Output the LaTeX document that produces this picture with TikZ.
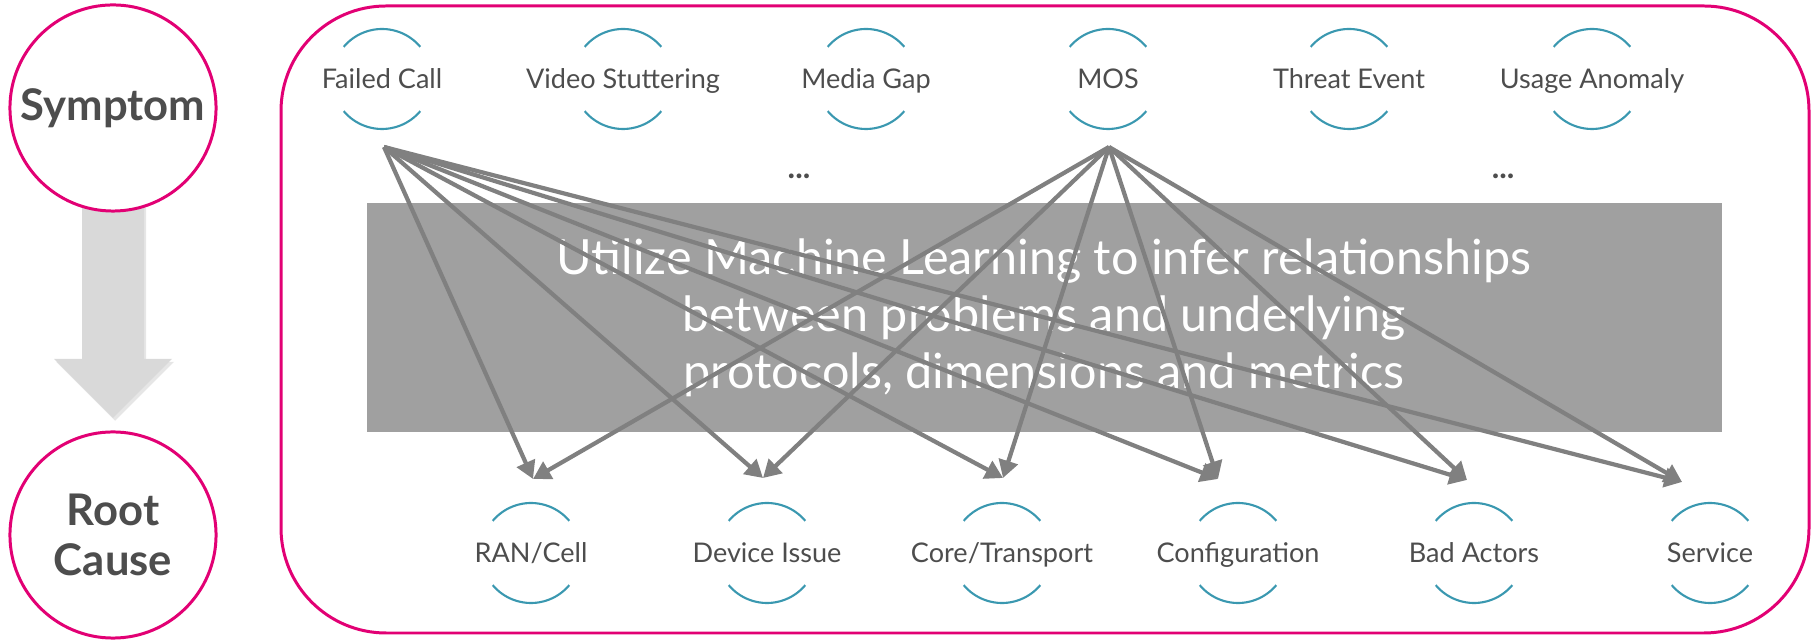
\documentclass[tikz,border=0pt]{standalone}
\usepackage{fontspec}
\setmainfont{Lato}
\usetikzlibrary{arrows.meta,shadows}

\definecolor{rim}{HTML}{E20074}
\definecolor{arcteal}{HTML}{3A98B0}
\definecolor{inkgray}{HTML}{4D4D4D}
\definecolor{linkgray}{HTML}{808080}
\definecolor{bandgray}{HTML}{A0A0A0}
\definecolor{downgray}{HTML}{D9D9D9}

\begin{document}
\begin{tikzpicture}[x=0.01cm,y=0.01cm,
  stage/.style={circle,draw=rim,line width=0.85pt,fill=white,minimum size=2.06cm,
    inner sep=0pt,align=center,text=inkgray,font=\fontsize{12.4}{14.2}\selectfont\bfseries},
  item/.style={inner sep=0pt,text height=5.5pt,text depth=0pt,text=inkgray,
    font=\fontsize{7.7}{9}\selectfont},
  arcline/.style={draw=arcteal,line width=0.6pt},
  link/.style={draw=linkgray,line width=1.2pt,-{Triangle[length=5pt,width=5.5pt]}}]
\useasboundingbox (0,0) rectangle (1816,640);

% frame round the graph
\draw[rim,line width=0.85pt,rounded corners=1.05cm] (281,7) rectangle (1809,634);

% big down arrow between the two stages
\fill[downgray,drop shadow={shadow xshift=0.6pt,shadow yshift=-0.8pt,opacity=0.2}]
  (82,435) -- (144,435) -- (144,281) -- (172,281) -- (113,222) -- (54,281) -- (82,281) -- cycle;
\node[stage] (sym) at (113,532) {Symptom};
\node[stage] (rc) at (113,105) {Root\\Cause};

% symptoms
\node[item] (fc) at (382,561) {Failed Call};
\node[item] (vs) at (623,561) {Video Stuttering};
\node[item] (mg) at (866,561) {Media Gap};
\node[item] (mos) at (1108,561) {MOS};
\node[item] (te) at (1349,561) {Threat Event};
\node[item] (ua) at (1592,561) {Usage Anomaly};

% root causes
\node[item] (ran) at (531,87) {RAN/Cell};
\node[item] (dev) at (767,87) {Device Issue};
\node[item] (core) at (1002,87) {Core/Transport};
\node[item] (cfg) at (1238,87) {Configuration};
\node[item] (bad) at (1474,87) {Bad Actors};
\node[item] (svc) at (1710,87) {Service};

% open circle round each label
\foreach \n in {fc,vs,mg,mos,te,ua,ran,dev,core,cfg,bad,svc}{
  \draw[arcline] (\n.center) ++(40:50) arc[start angle=40,end angle=140,radius=50];
  \draw[arcline] (\n.center) ++(220:50) arc[start angle=220,end angle=320,radius=50];
}

\node[text=inkgray,font=\fontsize{9}{10}\selectfont\bfseries,anchor=base] (more1) at (799,461) {...};
\node[text=inkgray,font=\fontsize{9}{10}\selectfont\bfseries,anchor=base] (more2) at (1503,461) {...};

% ML band
\fill[bandgray] (367,208) rectangle (1722,437);
\node[text=white,align=center,font=\fontsize{13.8}{16.2}\selectfont] (ml) at (1044,322)
  {Utilize Machine Learning to infer relationships\\between problems and underlying\\protocols, dimensions and metrics};

% where the links leave and land
\coordinate (fc-out) at (384,493);
\coordinate (mos-out) at (1109,493);
\coordinate (ran-in) at (533,161);
\coordinate (dev-in) at (763,162);
\coordinate (core-in) at (1003,162);
\coordinate (cfg-in) at (1218,161);
\coordinate (bad-in) at (1467,160);
\coordinate (svc-in) at (1682,158);

\foreach \t in {ran,dev,core,cfg,bad,svc}{
  \draw[link] (fc-out) -- (\t-in);
  \draw[link] (mos-out) -- (\t-in);
}

\end{tikzpicture}
\end{document}
